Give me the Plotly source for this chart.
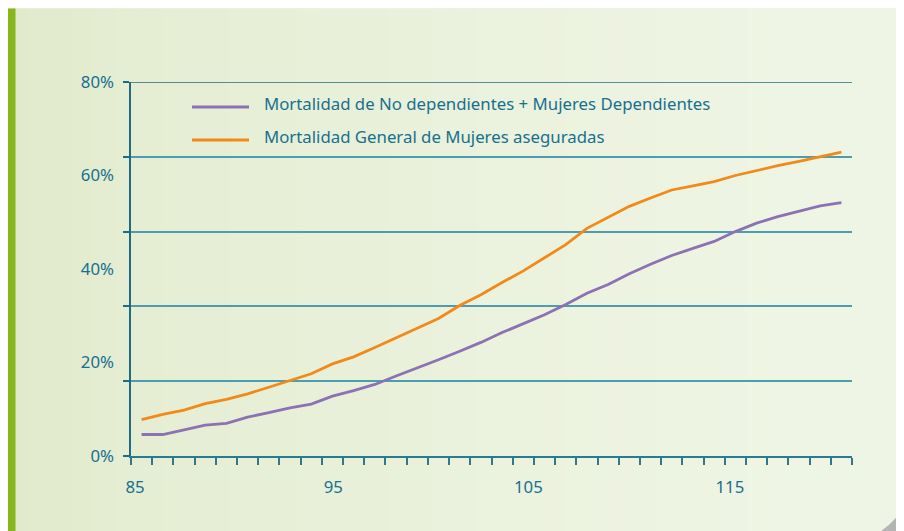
import plotly.graph_objects as go

# ---- data ----
ages = list(range(85, 119))  # 34 age categories
mort_no_dep = [4.6, 4.6, 5.6, 6.6, 7.0, 8.3, 9.3, 10.3, 11.1, 12.8,
               14.0, 15.3, 17.1, 18.8, 20.6, 22.4, 24.3, 26.4, 28.3, 30.2,
               32.4, 34.8, 36.7, 39.0, 41.0, 42.9, 44.4, 45.9, 48.0, 49.8,
               51.2, 52.4, 53.5, 54.2]
mort_general = [7.8, 8.9, 9.8, 11.2, 12.1, 13.3, 14.7, 16.2, 17.6, 19.7,
                21.2, 23.2, 25.3, 27.4, 29.4, 32.2, 34.5, 37.1, 39.6, 42.4,
                45.2, 48.7, 51.1, 53.4, 55.2, 56.9, 57.8, 58.7, 60.0, 61.1,
                62.1, 63.0, 64.0, 65.0]
series_names = ["Mortalidad de No dependientes + Mujeres Dependientes",
                "Mortalidad General de Mujeres aseguradas"]
x_tick_labels = ["85", "95", "105", "115"]
y_tick_labels = ["0%", "20%", "40%", "60%", "80%"]
y_tick_values = [0, 20, 40, 60, 80]
grid_values = [0, 16, 32, 48, 64, 80]

# ---- layout geometry (screen pixels; page body has an 8px margin) ----
OFF = 8
SW, SH = 904, 531
W, H = SW - OFF, SH - OFF
L, R, T, B = 131, 852, 82, 456          # plot area in screen pixels
x_label_pos = [84.69, 94.04, 103.24, 112.74]
TEAL = "#17708f"
PURPLE = "#8c72b4"
ORANGE = "#f28a1a"
FONT = "Noto Sans, sans-serif"
FS = 16.8


def px(x):
    return (x - L) / (R - L)


def py(y):
    return (B - y) / (B - T)


def lerp(c1, c2, t):
    a = [int(c1[i:i + 2], 16) for i in (1, 3, 5)]
    b = [int(c2[i:i + 2], 16) for i in (1, 3, 5)]
    return "#" + "".join("%02x" % round(a[k] + (b[k] - a[k]) * t) for k in range(3))


shapes = []
# top shadow line
shapes.append(dict(type="rect", xref="paper", yref="paper", x0=px(0), x1=px(SW + 2),
                   y0=py(9), y1=py(6), fillcolor="#f1f1f1", line_width=0, layer="below"))
# background gradient
n = 40
for i in range(n):
    x0 = 4 + (SW - 4) * i / n
    x1 = 4 + (SW - 4) * (i + 1) / n + 1
    shapes.append(dict(type="rect", xref="paper", yref="paper", x0=px(x0), x1=px(x1),
                       y0=py(SH + 2), y1=py(8.5),
                       fillcolor=lerp("#e1eacc", "#eff5e4", min(1, (i / n) ** 0.7 * 1.1)),
                       line_width=0, layer="below"))
# left green stripe
shapes.append(dict(type="rect", xref="paper", yref="paper", x0=px(4), x1=px(15.5),
                   y0=py(SH + 2), y1=py(8.5), fillcolor="#86b81b", line_width=0, layer="below"))
# page curl bottom-right
shapes.append(dict(type="path", xref="paper", yref="paper", layer="below",
                   path="M %f,%f Q %f,%f %f,%f L %f,%f Z" % (px(878), py(533), px(896), py(522), px(906), py(503),
                                                          px(906), py(533)),
                   fillcolor="#b4b4b4", line_width=0))
# top (80%) gridline, darker
shapes.append(dict(type="line", xref="paper", yref="y", x0=px(125), x1=1, y0=80, y1=80,
                   line=dict(color="#1b6c84", width=1.6)))

# legend drawn manually
legend_rows = [(107, PURPLE), (140, ORANGE)]
annotations = []
for (yy, col), name in zip(legend_rows, series_names):
    shapes.append(dict(type="line", xref="paper", yref="paper", x0=px(192), x1=px(249),
                       y0=py(yy), y1=py(yy), line=dict(color=col, width=3)))
    annotations.append(dict(xref="paper", yref="paper", x=px(262), y=py(yy - 4), text=name,
                            showarrow=False, xanchor="left", yanchor="middle",
                            font=dict(family=FONT, size=FS, color=TEAL)))

fig = go.Figure()
fig.add_trace(go.Scatter(x=ages, y=mort_no_dep, mode="lines", name=series_names[0],
                         line=dict(color=PURPLE, width=2.8)))
fig.add_trace(go.Scatter(x=ages, y=mort_general, mode="lines", name=series_names[1],
                         line=dict(color=ORANGE, width=2.8)))
# invisible trace for secondary label axes
fig.add_trace(go.Scatter(x=[ages[0]], y=[0], xaxis="x2", yaxis="y2", mode="markers",
                         marker=dict(opacity=0), hoverinfo="skip", showlegend=False))

fig.update_layout(
    width=W, height=H,
    margin=dict(l=L - OFF, r=SW - R, t=T - OFF, b=SH - B, pad=0, autoexpand=False),
    paper_bgcolor="#ffffff",
    plot_bgcolor="rgba(0,0,0,0)",
    showlegend=False,
    shapes=shapes,
    annotations=annotations,
    xaxis=dict(range=[ages[0] - 0.5, ages[-1] + 0.5], tickmode="linear", tick0=ages[0] - 0.5, dtick=1,
               showticklabels=False, ticks="outside", ticklen=7, tickwidth=1.5, tickcolor="#2a7a92",
               showgrid=False, zeroline=False, showline=True, linecolor="#2a7a92", linewidth=2,
               automargin=False),
    yaxis=dict(range=[0, 80], tickvals=grid_values, showticklabels=False, ticks="outside",
               ticklen=6, tickwidth=1.5, tickcolor="#1b6c84",
               showgrid=True, gridcolor="#4e9cb0", gridwidth=1.8, zeroline=False,
               showline=True, linecolor="#1b6c84", linewidth=1.6, automargin=False),
    xaxis2=dict(overlaying="x", range=[ages[0] - 0.5, ages[-1] + 0.5], side="bottom",
                tickvals=x_label_pos, ticktext=x_tick_labels, ticks="", showgrid=False,
                zeroline=False, showline=False, ticklabelstandoff=19, automargin=False,
                tickfont=dict(family=FONT, size=FS, color=TEAL)),
    yaxis2=dict(overlaying="y", range=[0, 80], side="left", tickvals=y_tick_values,
                ticktext=y_tick_labels, ticks="", showgrid=False, zeroline=False, showline=False,
                ticklabelstandoff=16, automargin=False, tickfont=dict(family=FONT, size=FS, color=TEAL)),
)

fig.write_html("out.html")
